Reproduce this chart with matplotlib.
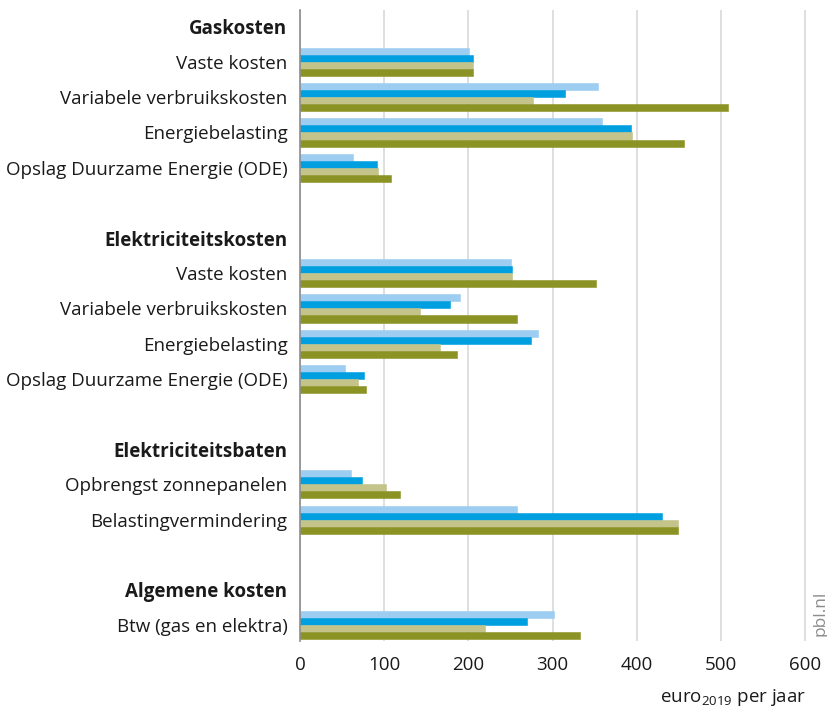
import numpy as np
import matplotlib
matplotlib.use("Agg")
import matplotlib.pyplot as plt

plt.rcParams["font.family"] = ["Open Sans", "DejaVu Sans"]

# rows top to bottom; headers in bold, "" = blank spacer row
row_labels = ["Gaskosten", "Vaste kosten", "Variabele verbruikskosten",
              "Energiebelasting", "Opslag Duurzame Energie (ODE)", "",
              "Elektriciteitskosten", "Vaste kosten", "Variabele verbruikskosten",
              "Energiebelasting", "Opslag Duurzame Energie (ODE)", "",
              "Elektriciteitsbaten", "Opbrengst zonnepanelen",
              "Belastingvermindering", "",
              "Algemene kosten", "Btw (gas en elektra)"]
headers = ["Gaskosten", "Elektriciteitskosten", "Elektriciteitsbaten",
           "Algemene kosten"]
bar_rows = [1, 2, 3, 4, 7, 8, 9, 10, 13, 14, 17]

# four series, one value per bar row
series_a = [201, 354, 358, 63, 251, 190, 283, 53, 61, 258, 302]
series_b = [205, 315, 393, 91, 252, 178, 274, 76, 74, 430, 269]
series_c = [205, 277, 394, 93, 252, 142, 166, 69, 102, 449, 220]
series_d = [205, 508, 456, 108, 351, 258, 187, 78, 119, 449, 333]
colors = ["#9dcdf1", "#009fe0", "#c3c38a", "#8c9325"]

fig = plt.figure(figsize=(8.28, 7.16), dpi=100)
ax = fig.add_axes([300 / 828, 1 - 641 / 716, 507 / 828, 631 / 716])

h = 0.2
y = np.array(bar_rows, dtype=float)
for i, (vals, c) in enumerate(zip([series_a, series_b, series_c, series_d], colors)):
    ax.barh(y + (i - 1.5) * h, vals, height=h, color=c, edgecolor=c,
            linewidth=0.4, zorder=3)

ax.set_xlim(0, 602)
ax.set_ylim(17.45, -0.48)
ax.set_xticks([0, 100, 200, 300, 400, 500, 600])
ax.set_yticks(range(len(row_labels)))
ax.set_yticklabels(row_labels)
for lbl in ax.get_yticklabels():
    if lbl.get_text() in headers:
        lbl.set_fontweight("bold")
ax.tick_params(axis="y", length=0, pad=9, labelsize=13.5, colors="#1a1a1a")
ax.tick_params(axis="x", length=0, pad=11, labelsize=13.5, colors="#1a1a1a")
ax.grid(axis="x", color="#d9d9d9", linewidth=1.2, zorder=0)
for s in ["top", "right", "bottom"]:
    ax.spines[s].set_visible(False)
ax.spines["left"].set_color("#8c8c8c")
ax.spines["left"].set_linewidth(1.2)
ax.spines["left"].set_zorder(4)

fig.text(806 / 828, 1 - 697 / 716, r"euro$_{\mathregular{2019}}$ per jaar",
         ha="right", va="center", fontsize=13.5, color="#1a1a1a")
fig.text(821 / 828, 1 - 613 / 716, "pbl.nl", rotation=90, ha="center",
         va="center", fontsize=12.5, color="#8c8c8c")

fig.savefig("out.png", dpi=100)
